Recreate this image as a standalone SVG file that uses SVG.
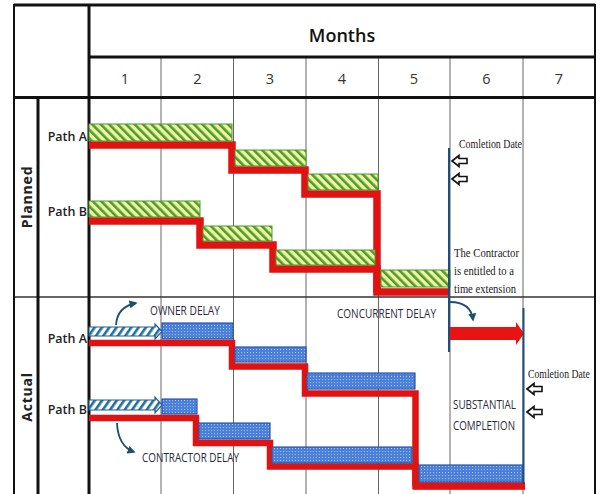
<svg xmlns="http://www.w3.org/2000/svg" width="601" height="494" viewBox="0 0 601 494">
<defs>
<style>
.thick{stroke:#111;stroke-width:3;fill:none}
.thin{stroke:#666;stroke-width:1;fill:none}
.sep{stroke:#333;stroke-width:1.5;fill:none}
.num{font-family:"Open Sans","Liberation Sans",sans-serif;font-size:14.5px;fill:#333;text-anchor:middle}
.path{font-family:"Open Sans","Liberation Sans",sans-serif;font-size:12.5px;font-weight:600;fill:#222;text-anchor:end}
.side{font-family:"Open Sans","Liberation Sans",sans-serif;font-size:14px;font-weight:700;fill:#222;text-anchor:middle;letter-spacing:0.8px}
.cal{font-family:"Open Sans","Liberation Sans",sans-serif;font-size:13px;fill:#2a2a3a}
.ser{font-family:"Liberation Serif","Times New Roman",serif;font-size:13.5px;fill:#222}
.green{fill:url(#gHatch);stroke:#4d9a2a;stroke-width:1}
.blue{fill:url(#bDots);stroke:#2a56a8;stroke-width:1.2}
.red{fill:none;stroke:#e01212;stroke-width:7.5;stroke-linejoin:miter;stroke-linecap:butt}
.hatchArrow{fill:url(#bHatch);stroke:#1f5f8f;stroke-width:1.2}
.curve{fill:none;stroke:#1d4f6e;stroke-width:1.8;marker-end:url(#head)}
.hollow{fill:#fff;stroke:#111;stroke-width:1.6;stroke-linejoin:miter}
.cline{stroke:#1f4e79;stroke-width:2;fill:none}
</style>
<pattern id="gHatch" patternUnits="userSpaceOnUse" width="6" height="6" patternTransform="rotate(-45)">
<rect width="6" height="6" fill="#eef6a6"/>
<rect width="2.6" height="6" fill="#4f9a2a"/>
</pattern>
<pattern id="bHatch" patternUnits="userSpaceOnUse" width="6" height="6" patternTransform="rotate(35)">
<rect width="6" height="6" fill="#ffffff"/>
<rect width="2.6" height="6" fill="#1f6f9f"/>
</pattern>
<pattern id="bDots" patternUnits="userSpaceOnUse" width="3" height="3">
<rect width="3" height="3" fill="#4b80dd"/>
<rect x="1" y="1" width="1" height="1" fill="#a9c4f2"/>
</pattern>
<marker id="head" viewBox="0 0 10 10" refX="8" refY="5" markerWidth="4.5" markerHeight="4.5" orient="auto">
<path d="M0,0 L10,5 L0,10 Z" fill="#1d4f6e"/>
</marker>
</defs>
<rect width="601" height="494" fill="#fff"/>

<g id="table">
<line class="thick" x1="14" y1="5" x2="595" y2="5"/>
<line class="thin" x1="161" y1="57" x2="161" y2="494"/>
<line class="thin" x1="233.5" y1="57" x2="233.5" y2="494"/>
<line class="thin" x1="306" y1="57" x2="306" y2="494"/>
<line class="thin" x1="378.5" y1="57" x2="378.5" y2="494"/>
<line class="thin" x1="450" y1="57" x2="450" y2="494"/>
<line class="thin" x1="523" y1="57" x2="523" y2="494"/>
<line class="thick" x1="89" y1="57" x2="595" y2="57"/>
<line class="thick" x1="14" y1="97.5" x2="595" y2="97.5"/>
<line class="sep" x1="14" y1="297" x2="595" y2="297"/>
<line class="thick" x1="14" y1="4" x2="14" y2="494" style="stroke-width:2"/>
<line class="thick" x1="595" y1="4" x2="595" y2="494" style="stroke-width:2"/>
<line class="thick" x1="89" y1="4" x2="89" y2="494"/>
<line class="thick" x1="38" y1="97" x2="38" y2="494"/>
<text x="342" y="42" style="font-family:'Open Sans','Liberation Sans',sans-serif;font-size:18px;font-weight:600;fill:#111;text-anchor:middle">Months</text>
<text class="num" x="125" y="84">1</text>
<text class="num" x="197.5" y="84">2</text>
<text class="num" x="270" y="84">3</text>
<text class="num" x="342" y="84">4</text>
<text class="num" x="414" y="84">5</text>
<text class="num" x="486.5" y="84">6</text>
<text class="num" x="559" y="84">7</text>
</g>

<g id="labels">
<text class="side" transform="translate(32,197) rotate(-90)">Planned</text>
<text class="side" transform="translate(32,397) rotate(-90)">Actual</text>
<text class="path" x="87" y="141">Path A</text>
<text class="path" x="87" y="216">Path B</text>
<text class="path" x="87" y="343">Path A</text>
<text class="path" x="87" y="414">Path B</text>
</g>

<g id="planned-path-a">
<path class="red" d="M89,145 H232 V170 H305 V194 H377 V293"/>
<rect class="green" x="89" y="124" width="143" height="17"/>
<rect class="green" x="235" y="150" width="71" height="16"/>
<rect class="green" x="308" y="174" width="70" height="16"/>
</g>

<g id="planned-path-b">
<path class="red" d="M89,221 H200 V245 H273 V269 H377 V292 H450"/>
<rect class="green" x="89" y="201" width="111" height="16"/>
<rect class="green" x="203" y="226" width="69" height="15"/>
<rect class="green" x="276" y="250" width="99" height="15"/>
<rect class="green" x="381" y="270" width="69" height="17"/>
</g>

<g id="planned-completion">
<line class="cline" x1="449" y1="148" x2="449" y2="352"/>
<text class="ser" x="459" y="148" textLength="63" lengthAdjust="spacingAndGlyphs">Comletion Date</text>
<path class="hollow" d="M452,161 L459,155.5 V158.5 H467 V163.5 H459 V166.5 Z"/>
<path class="hollow" d="M452,179 L459,173.5 V176.5 H467 V181.5 H459 V184.5 Z"/>
<text class="ser" x="454" y="257" textLength="65" lengthAdjust="spacingAndGlyphs">The Contractor</text>
<text class="ser" x="454" y="275" textLength="60" lengthAdjust="spacingAndGlyphs">is entitled to a</text>
<text class="ser" x="454" y="293" textLength="62" lengthAdjust="spacingAndGlyphs">time extension</text>
</g>

<g id="actual-path-a">
<path class="red" d="M89,343 H232 V366.5 H305 V393.5 H415.5 V486" style="stroke-width:6.5"/>
<path class="hatchArrow" d="M89,327 H155 V324 L162,331.5 L155,339 V336 H89 Z"/>
<rect class="blue" x="162" y="323" width="71" height="16"/>
<rect class="blue" x="235" y="347" width="71" height="15"/>
<rect class="blue" x="307" y="373" width="108" height="16"/>
</g>

<g id="actual-path-b">
<path class="red" d="M89,418 H196 V443 H270 V466.5 H415.5 V486 H525" style="stroke-width:6.5"/>
<path class="red" d="M413,486 H525"/>
<path class="hatchArrow" d="M89,400 H155 V397 L162,405 L155,413 V410 H89 Z"/>
<rect class="blue" x="162" y="399" width="35" height="15"/>
<rect class="blue" x="199" y="423" width="71" height="16"/>
<rect class="blue" x="272" y="447" width="140" height="16"/>
<rect class="blue" x="419" y="465" width="104" height="17"/>
</g>

<g id="concurrent-delay">
<path d="M450,327 H516 V322 L524,333.5 L516,345 V340 H450 Z" fill="#e81414"/>
<text class="cal" x="337" y="318" textLength="99" lengthAdjust="spacingAndGlyphs">CONCURRENT DELAY</text>
</g>

<g id="actual-completion">
<line class="cline" x1="523.5" y1="308" x2="523.5" y2="484"/>
<text class="ser" transform="translate(528,378) scale(0.72,1)">Comletion Date</text>
<path class="hollow" d="M527,389 L534,383.5 V386.5 H542 V391.5 H534 V394.5 Z"/>
<path class="hollow" d="M527,412 L534,406.5 V409.5 H542 V414.5 H534 V417.5 Z"/>
<text class="cal" x="453" y="409" textLength="63" lengthAdjust="spacingAndGlyphs">SUBSTANTIAL</text>
<text class="cal" x="453" y="430" textLength="62" lengthAdjust="spacingAndGlyphs">COMPLETION</text>
</g>

<g id="delay-labels">
<text class="cal" x="150" y="315" textLength="70" lengthAdjust="spacingAndGlyphs">OWNER DELAY</text>
<text class="cal" x="142" y="462" textLength="97" lengthAdjust="spacingAndGlyphs">CONTRACTOR DELAY</text>
</g>

<g id="connectors">
<path class="curve" d="M116,325 Q117,307 136,303"/>
<path class="curve" d="M117,423 Q118,446 134,452"/>
<path class="curve" d="M450,302 Q471,302 473,320"/>
</g>
</svg>
